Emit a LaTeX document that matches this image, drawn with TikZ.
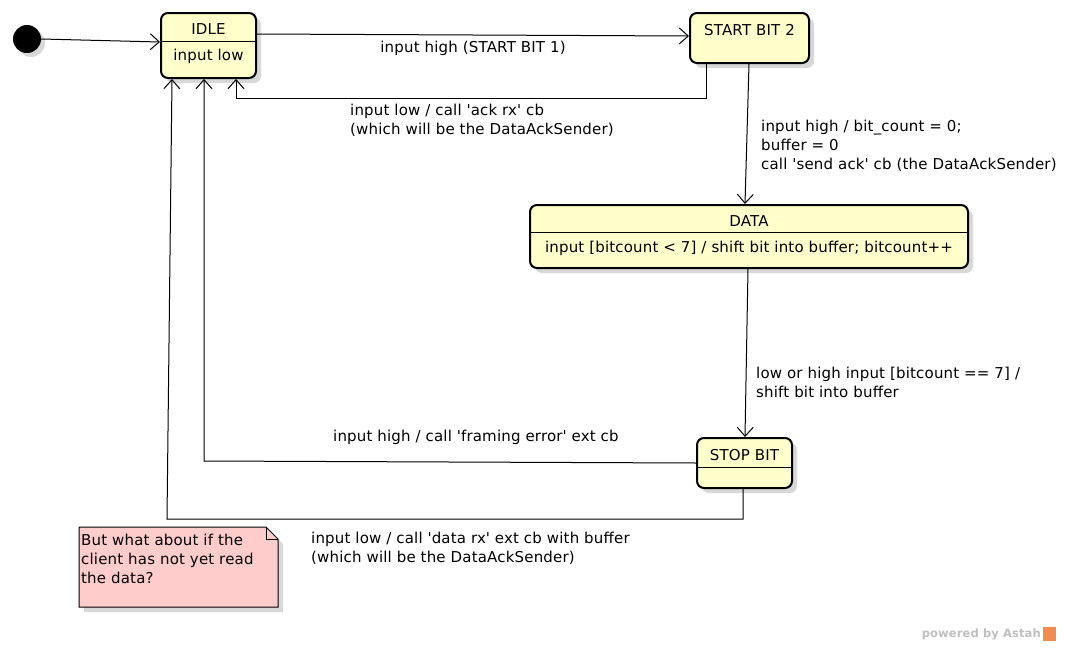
\documentclass[tikz,border=0pt]{standalone}
\usepackage{fontspec}
\setmainfont{DejaVu Sans}[LetterSpace=1.2]
\usetikzlibrary{arrows.meta,calc,shadows}
\definecolor{statefill}{RGB}{255,255,204}
\definecolor{notefill}{RGB}{255,204,204}
\definecolor{shadowgray}{RGB}{216,216,216}
\definecolor{astahorange}{RGB}{240,140,80}
\newcommand{\sq}{\textquotesingle}
\tikzset{
  statebox/.style={draw=black, line width=2pt, rounded corners=7pt, fill=statefill,
    drop shadow={shadow xshift=5pt, shadow yshift=-5pt, fill=shadowgray, opacity=1}, inner sep=0pt},
  txt/.style={inner sep=0pt, align=left},
  conn/.style={draw, line width=1pt, -{Straight Barb[length=9pt,width=16pt,line width=1pt]}},
  divider/.style={line width=1pt},
}
\begin{document}
\begin{tikzpicture}[x=1pt,y=-1pt, font=\fontsize{15}{19}\selectfont]
\useasboundingbox (0,0) rectangle (1069,648);
\fill[white] (0,0) rectangle (1069,648);

% initial state
\fill[shadowgray] (31,43) circle (14);
\node[circle, fill=black, minimum size=28pt, inner sep=0pt] (init) at (27,39) {};

% IDLE
\node[statebox, minimum width=95pt, minimum height=65pt] (idle) at (208.5,45.5) {};
\draw[divider] ($(idle.north west)+(0,29)$) -- ($(idle.north east)+(0,29)$);
\node[txt] (idlename) at (208.5,29) {IDLE};
\node[txt] (idlebody) at (208.5,56) {input low};

% START BIT 2
\node[statebox, minimum width=119pt, minimum height=50pt] (start) at (749.5,38) {};
\node[txt] (startname) at (749.5,30) {START BIT 2};

% DATA
\node[statebox, minimum width=438pt, minimum height=63pt] (data) at (749,236.5) {};
\draw[divider] ($(data.north west)+(0,28)$) -- ($(data.north east)+(0,28)$);
\node[txt] (dataname) at (749,221) {DATA};
\node[txt] (databody) at (749,248) {input [bitcount < 7] / shift bit into buffer; bitcount++};

% STOP BIT
\node[statebox, minimum width=95pt, minimum height=50pt] (stop) at (744.5,463) {};
\draw[divider] ($(stop.north west)+(0,30)$) -- ($(stop.north east)+(0,30)$);
\node[txt] (stopname) at (744.5,455) {STOP BIT};

% note
\fill[shadowgray] (84,532) -- (271,532) -- (283,544) -- (283,612) -- (84,612) -- cycle;
\draw[fill=notefill, line width=1pt] (79,527) -- (266,527) -- (278,539) -- (278,607) -- (79,607) -- cycle;
\draw[line width=1pt] (266,527) -- (266,539) -- (278,539);
\node[txt, anchor=west] (note) at (81,559) {But what about if the\\client has not yet read\\the data?};

% connectors
\draw[conn] (init.east) -- ($(idle.north west)+(0,30)$);
\draw[conn] ($(idle.north east)+(0,22)$) -- ($(start.north west)+(0,24)$);
\draw[conn] ($(start.south west)+(17,0)$) -- ++(0,34) -| ($(idle.south west)+(76,0)$);
\draw[conn] ($(start.south)+(-0.5,0)$) -- ($(data.north)+(-4,0)$);
\draw[conn] ($(data.south)+(-1,0)$) -- ($(stop.north)+(0.5,0)$);
\draw[conn] ($(stop.west)+(0,0)$) -- ($(idle.south west)+(44,382)$) -- ($(idle.south west)+(44,0)$);
\coordinate (bend) at ($(idle.south west)+(7,440)$);
\draw[conn] ($(stop.south)+(-1.5,0)$) -- ++(0,30) -- (bend) -- ($(idle.south west)+(12,0)$);

% labels
\node[txt] (l2) at (473,48) {input high (START BIT 1)};
\node[txt, anchor=west] (l3) at (350,120.5) {input low / call \sq ack rx\sq\ cb\\(which will be the DataAckSender)};
\node[txt, anchor=west] (l4) at (761,146) {input high / bit\_count = 0;\\buffer = 0\\call \sq send ack\sq\ cb (the DataAckSender)};
\node[txt, anchor=west] (l5) at (756,382) {low or high input [bitcount == 7] /\\shift bit into buffer};
\node[txt, anchor=west] (l6) at (333,437) {input high / call \sq framing error\sq\ ext cb};
\node[txt, anchor=west] (l7) at (311,548) {input low / call \sq data rx\sq\ ext cb with buffer\\(which will be the DataAckSender)};

% watermark
\node[txt, anchor=east, text=black!25, font=\fontsize{11.5}{13}\selectfont\bfseries] (wm) at (1041,634) {powered by Astah};
\fill[astahorange] (1043,627) rectangle (1056,641);
\end{tikzpicture}
\end{document}
